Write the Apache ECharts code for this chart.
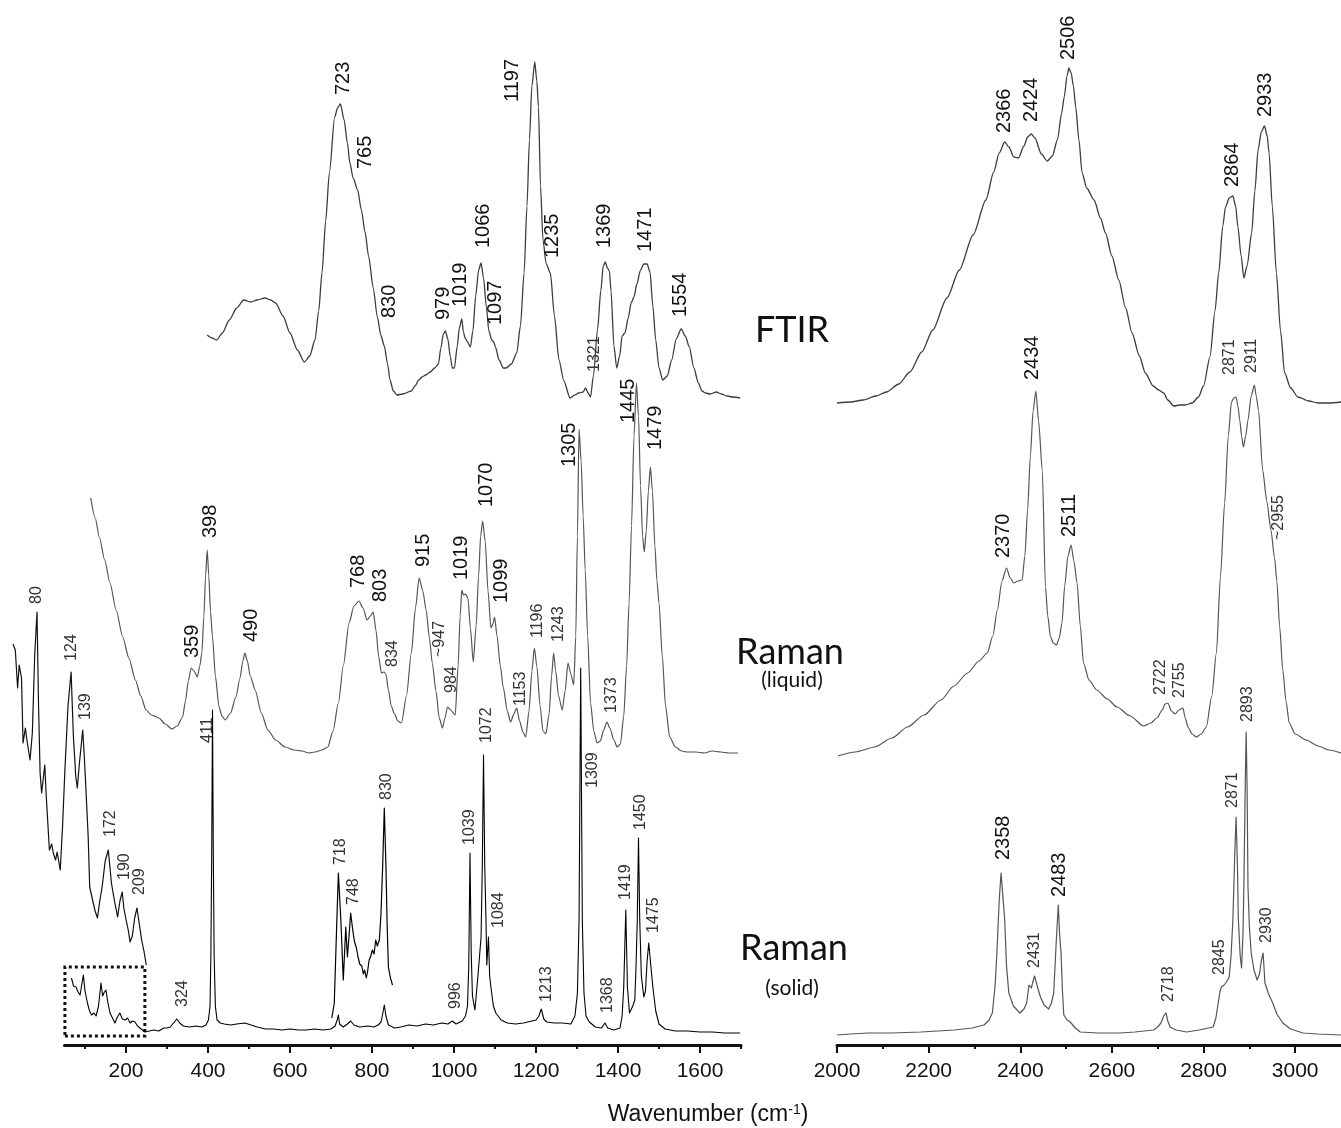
<!DOCTYPE html>
<html>
<head>
<meta charset="utf-8">
<title>FTIR and Raman spectra</title>
<script src="https://cdn.jsdelivr.net/npm/echarts@6/dist/echarts.min.js"></script>
<style>
  html, body { margin: 0; padding: 0; background: #ffffff; }
  #chart { width: 1341px; height: 1128px; }
</style>
</head>
<body>
<div id="chart"></div>
<script>
// Stacked spectra: [wavenumber (cm-1), offset intensity (a.u.)]

// FTIR, 400-1700 cm-1
const ftirLow = [[398,701],[410,698],[421,696],[435,703],[452,716],[470,728],[487,736],[504,734],[520,736],[539,738],[553,736],[565,733],[583,720],[600,703],[618,686],[635,674],[648,680],[661,696],[670,725],[678,763],[687,815],[696,863],[709,919],[716,928],[723,932],[732,916],[740,893],[746,873],[754,858],[765,846],[774,826],[783,804],[792,779],[803,748],[813,719],[822,700],[830,690],[838,672],[844,656],[852,645],[861,641],[875,642],[896,645],[905,650],[914,656],[922,659],[931,661],[942,664],[953,668],[962,672],[968,688],[974,702],[979,705],[985,697],[991,679],[996,668],[1001,668],[1008,690],[1013,708],[1019,717],[1023,704],[1027,698],[1033,694],[1040,689],[1046,705],[1053,740],[1060,766],[1066,773],[1072,758],[1079,729],[1085,705],[1092,696],[1097,694],[1101,689],[1110,676],[1120,668],[1127,668],[1140,672],[1153,683],[1162,710],[1171,763],[1178,830],[1184,896],[1190,950],[1197,974],[1202,955],[1206,929],[1211,850],[1217,796],[1225,772],[1235,763],[1245,720],[1256,676],[1268,655],[1283,638],[1295,641],[1304,643],[1315,644],[1321,648],[1327,643],[1333,639],[1340,660],[1350,706],[1358,745],[1364,770],[1369,774],[1374,768],[1379,765],[1383,745],[1390,690],[1397,668],[1404,680],[1410,700],[1417,703],[1425,718],[1432,733],[1439,739],[1446,752],[1455,766],[1463,772],[1471,772],[1478,764],[1485,730],[1492,696],[1500,668],[1509,656],[1520,660],[1531,676],[1542,697],[1554,707],[1564,700],[1574,689],[1585,668],[1596,653],[1605,645],[1613,643],[1625,642],[1640,644],[1652,642],[1666,640],[1680,639],[1698,638]];

// FTIR, 2000-3100 cm-1
const ftirHigh = [[2000,633],[2030,634],[2057,636],[2085,640],[2108,644],[2135,652],[2159,664],[2185,684],[2209,706],[2240,738],[2267,766],[2297,801],[2325,836],[2342,864],[2354,883],[2366,894],[2375,889],[2386,879],[2396,878],[2408,890],[2416,899],[2424,902],[2432,898],[2446,882],[2459,875],[2470,880],[2481,896],[2490,922],[2496,939],[2502,960],[2506,968],[2511,963],[2516,950],[2521,929],[2528,896],[2535,863],[2545,848],[2561,836],[2575,818],[2586,803],[2600,780],[2615,756],[2630,728],[2644,703],[2660,680],[2673,663],[2690,650],[2702,646],[2713,643],[2722,636],[2735,630],[2748,631],[2760,631],[2775,633],[2789,639],[2800,650],[2814,679],[2825,725],[2833,763],[2842,810],[2848,829],[2856,838],[2864,840],[2870,830],[2875,809],[2882,780],[2888,758],[2895,770],[2905,803],[2912,845],[2919,886],[2926,904],[2933,910],[2939,900],[2943,883],[2950,830],[2959,763],[2968,705],[2977,663],[2990,648],[3006,639],[3030,635],[3050,633],[3075,633],[3100,634]];

// Raman (liquid), 100-1700 cm-1
const liquidLow = [[114,538],[125,518],[135,499],[148,476],[161,453],[176,426],[192,399],[207,378],[223,356],[236,340],[249,326],[262,321],[270,320],[280,318],[296,312],[312,307],[325,310],[338,319],[345,335],[352,355],[359,368],[366,365],[374,359],[380,370],[385,383],[390,420],[394,460],[398,486],[402,460],[406,425],[411,399],[418,360],[427,329],[434,320],[442,316],[455,323],[468,339],[478,358],[485,375],[490,383],[496,375],[503,360],[515,346],[530,323],[546,306],[565,296],[588,289],[610,286],[630,285],[645,283],[661,284],[678,286],[692,289],[705,305],[718,333],[730,370],[744,413],[756,430],[768,435],[778,428],[788,416],[796,420],[803,424],[810,405],[816,380],[823,363],[829,364],[834,362],[840,346],[847,330],[854,323],[863,315],[872,313],[884,340],[896,383],[906,428],[915,458],[924,445],[932,426],[940,398],[947,373],[956,345],[964,318],[972,308],[978,318],[984,329],[992,326],[1003,321],[1010,370],[1015,420],[1019,446],[1023,441],[1028,442],[1034,438],[1040,408],[1047,374],[1054,410],[1060,460],[1065,500],[1070,515],[1076,495],[1083,445],[1090,408],[1095,412],[1099,419],[1105,400],[1113,370],[1120,349],[1130,325],[1138,314],[1146,322],[1153,328],[1160,315],[1168,304],[1175,299],[1183,325],[1190,365],[1196,388],[1202,370],[1210,330],[1217,305],[1224,302],[1232,322],[1238,360],[1243,383],[1248,365],[1255,340],[1264,326],[1271,345],[1278,373],[1285,362],[1292,351],[1297,400],[1301,500],[1305,607],[1310,575],[1315,520],[1320,466],[1326,400],[1333,333],[1341,305],[1349,293],[1357,295],[1365,306],[1373,314],[1380,308],[1390,296],[1398,289],[1406,292],[1414,320],[1421,370],[1427,433],[1433,510],[1439,600],[1445,653],[1450,620],[1455,550],[1460,500],[1464,484],[1469,505],[1474,545],[1479,569],[1484,545],[1490,490],[1495,455],[1500,433],[1508,380],[1516,330],[1526,299],[1540,289],[1555,285],[1568,284],[1590,284],[1610,283],[1630,285],[1651,284],[1670,283],[1693,283]];

// Raman (liquid), 2000-3100 cm-1
const liquidHigh = [[2002,280],[2040,284],[2082,289],[2120,298],[2154,309],[2190,321],[2227,336],[2255,350],[2285,363],[2310,375],[2328,383],[2340,400],[2350,426],[2360,455],[2370,468],[2378,458],[2386,453],[2395,455],[2404,456],[2410,480],[2416,526],[2422,580],[2428,625],[2434,645],[2440,615],[2448,566],[2455,449],[2460,420],[2466,399],[2472,393],[2479,391],[2485,398],[2491,413],[2497,450],[2504,480],[2511,491],[2517,475],[2524,453],[2531,410],[2538,373],[2550,356],[2567,346],[2590,337],[2611,329],[2640,320],[2669,310],[2685,313],[2698,318],[2710,326],[2716,332],[2722,333],[2730,325],[2738,322],[2746,326],[2755,328],[2760,318],[2766,309],[2775,302],[2784,299],[2795,302],[2806,309],[2818,340],[2828,383],[2837,460],[2846,533],[2854,600],[2861,634],[2866,638],[2871,639],[2875,630],[2879,616],[2883,600],[2887,589],[2892,600],[2897,616],[2904,640],[2911,651],[2915,640],[2920,626],[2929,566],[2938,535],[2947,506],[2955,478],[2960,455],[2966,410],[2973,366],[2980,335],[2987,313],[3000,302],[3024,296],[3050,290],[3074,286],[3100,283]];

// Raman (solid), 60-1700 cm-1
const solidLow = [[67,58],[72,50],[78,49],[83,44],[88,41],[96,61],[100,45],[106,33],[111,25],[116,21],[122,23],[127,20],[133,30],[139,53],[143,40],[146,43],[151,46],[156,33],[161,23],[167,18],[173,13],[179,19],[185,23],[191,17],[198,16],[204,18],[210,13],[216,15],[222,14],[228,10],[234,8],[240,6],[246,4],[257,5],[267,6],[280,5],[292,8],[299,8],[308,9],[316,13],[324,17],[331,13],[340,10],[355,9],[370,10],[385,9],[395,11],[401,16],[405,30],[407,80],[409,180],[411,326],[413,180],[415,80],[418,30],[422,16],[430,13],[440,12],[455,11],[470,12],[490,13],[505,11],[520,9],[540,7],[560,7],[580,6],[600,7],[620,6],[640,6],[660,7],[680,6],[700,7],[710,10],[715,16],[718,21],[721,12],[730,9],[740,12],[748,15],[756,11],[770,9],[790,10],[805,9],[815,11],[822,14],[826,22],[830,31],[834,20],[840,11],[855,8],[870,9],[890,11],[910,10],[930,12],[950,11],[970,13],[985,12],[996,15],[1005,12],[1020,15],[1028,20],[1033,30],[1036,70],[1039,183],[1042,83],[1045,40],[1051,26],[1059,63],[1066,99],[1069,170],[1072,281],[1075,170],[1078,116],[1080,71],[1084,99],[1087,60],[1090,49],[1096,30],[1102,23],[1115,16],[1130,13],[1150,12],[1170,13],[1190,15],[1200,16],[1207,20],[1213,27],[1219,17],[1226,14],[1245,13],[1265,13],[1285,12],[1295,20],[1301,43],[1305,116],[1309,368],[1313,116],[1317,43],[1322,20],[1330,14],[1345,9],[1360,8],[1368,13],[1375,8],[1390,6],[1405,8],[1410,20],[1414,49],[1419,126],[1423,49],[1428,23],[1436,30],[1441,36],[1444,70],[1447,116],[1450,198],[1453,116],[1457,60],[1463,39],[1467,45],[1471,75],[1475,93],[1479,75],[1485,49],[1492,25],[1500,12],[1515,7],[1540,5],[1570,5],[1600,4],[1630,4],[1660,3],[1698,3]];

// Raman (solid), 700-850 cm-1, expanded intensity
const solidMid = [[702,18],[708,33],[713,99],[718,163],[724,116],[730,56],[736,109],[740,79],[744,100],[748,123],[753,106],[757,95],[762,88],[766,79],[770,72],[775,70],[779,62],[782,66],[786,58],[789,64],[793,76],[797,80],[801,86],[805,82],[809,96],[813,90],[818,96],[822,123],[826,170],[830,228],[834,170],[837,110],[840,69],[845,58],[850,51]];

// Raman (solid), 50-220 cm-1, expanded (boxed region)
const solidInset = [[49,392],[52,386],[55,348],[57,371],[60,358],[62,293],[65,308],[67,296],[71,276],[74,303],[77,380],[80,424],[82,330],[84,263],[86,243],[90,271],[92,239],[96,186],[99,192],[101,183],[104,176],[106,184],[108,183],[110,166],[113,210],[116,266],[120,330],[124,364],[127,299],[130,260],[132,248],[135,275],[139,306],[141,280],[143,249],[146,200],[148,149],[152,135],[155,125],[158,118],[161,135],[164,149],[168,175],[172,186],[174,170],[176,153],[180,135],[184,119],[187,135],[190,144],[192,128],[195,116],[198,105],[200,94],[203,100],[206,118],[209,128],[212,112],[215,96],[218,85],[221,71]];

// Raman (solid), 2000-3100 cm-1
const solidHigh = [[2000,1],[2030,2],[2067,3],[2120,3],[2183,4],[2220,5],[2256,6],[2295,8],[2321,11],[2332,16],[2339,23],[2345,50],[2349,83],[2354,135],[2358,163],[2362,140],[2366,116],[2370,70],[2375,43],[2385,30],[2399,23],[2408,27],[2414,33],[2419,51],[2424,48],[2431,60],[2437,50],[2444,39],[2452,31],[2462,27],[2468,33],[2473,43],[2478,90],[2483,131],[2486,100],[2489,83],[2492,45],[2495,21],[2502,16],[2509,14],[2520,8],[2531,4],[2570,3],[2618,3],[2650,4],[2691,6],[2700,9],[2707,13],[2713,20],[2718,23],[2722,15],[2727,9],[2740,6],[2763,4],[2790,6],[2821,9],[2827,18],[2832,33],[2836,45],[2839,49],[2845,51],[2850,54],[2856,59],[2860,80],[2864,116],[2868,180],[2871,219],[2874,170],[2876,116],[2880,80],[2883,68],[2886,100],[2888,149],[2891,250],[2893,304],[2895,250],[2897,149],[2900,110],[2904,83],[2910,66],[2917,56],[2922,62],[2926,75],[2930,83],[2934,53],[2942,42],[2951,33],[2960,22],[2973,13],[2990,7],[3017,3],[3050,2],[3100,1]];

// Band positions marked on each trace
const ftirLowPeaks = [723, 765, 830, 979, 1019, 1066, 1097, 1197, 1235, 1321, 1369, 1471, 1554];
const ftirHighPeaks = [2366, 2424, 2506, 2864, 2933];
const liquidLowPeaks = [359, 398, 490, 768, 803, 834, 915, 947, 984, 1019, 1070, 1099, 1153, 1196, 1243, 1305, 1373, 1445, 1479];
const liquidHighPeaks = [2370, 2434, 2511, 2722, 2755, 2871, 2911, 2955];
const solidLowPeaks = [324, 411, 996, 1039, 1072, 1084, 1213, 1309, 1368, 1419, 1450, 1475];
const solidMidPeaks = [718, 748, 830];
const solidInsetPeaks = [80, 124, 139, 172, 190, 209];
const solidHighPeaks = [2358, 2431, 2483, 2718, 2845, 2871, 2893, 2930];
const approxPeaks = [947, 2955];

// Axis ticks
const lowMajorTicks = [200, 400, 600, 800, 1000, 1200, 1400, 1600];
const lowMinorTicks = [100, 300, 500, 700, 900, 1100, 1300, 1500, 1700];
const highMajorTicks = [2000, 2200, 2400, 2600, 2800, 3000];
const highMinorTicks = [2100, 2300, 2500, 2700, 2900];

// Label placement tweaks (pixels: right, down) relative to each band
const nudge = {
  ftirLow: {723:[3,-9],765:[8,-21],830:[5,-28],979:[-2,-11],1019:[-1,-12],1066:[2,-15],1097:[2,-17],1197:[-22,40],1235:[2,-15],1321:[9,-16],1369:[-1,-14],1471:[-2,-12],1554:[-1,-12]},
  ftirHigh: {2366:[0,-9],2424:[0,-12],2506:[0,-8],2864:[0,-9],2933:[1,-9]},
  liquidLow: {359:[1,-10],398:[3,-12],490:[7,-11],768:[0,-13],803:[7,-10],834:[7,-7],915:[4,-11],947:[7,-6],984:[4,-14],1019:[0,-10],1070:[4,-14],1099:[7,-14],1153:[4,-2],1196:[3,-10],1243:[5,-11],1305:[-10,38],1373:[5,-9],1445:[-8,40],1479:[5,-17]},
  liquidHigh: {2370:[-3,-10],2434:[-3,-11],2511:[-2,-8],2722:[-7,-8],2755:[-3,-10],2871:[-6,-22],2911:[-3,-12],2955:[4,-18]},
  solidLow: {324:[6,-12],411:[-5,33],996:[3,-12],1039:[0,-8],1072:[3,-12],1084:[10,-9],1213:[5,-7],1309:[12,120],1368:[3,-10],1419:[0,-10],1450:[2,-8],1475:[5,-10]},
  solidMid: {718:[2,-8],748:[3,-8],830:[2,-8]},
  solidInset: {80:[0,-8],124:[0,-11],139:[3,-10],172:[2,-13],190:[2,-12],209:[3,-13]},
  solidHigh: {2358:[2,-13],2431:[0,-8],2483:[1,-8],2718:[3,-11],2845:[-5,-10],2871:[-3,-9],2893:[1,-10],2930:[3,-10]}
};
// Bands printed in the larger type
const largeLabels = {
  ftirLow: [723, 765, 830, 979, 1019, 1066, 1097, 1197, 1235, 1369, 1471, 1554],
  ftirHigh: [2366, 2424, 2506, 2864, 2933],
  liquidLow: [359, 398, 490, 768, 803, 915, 1019, 1070, 1099, 1305, 1445, 1479],
  liquidHigh: [2370, 2434, 2511],
  solidLow: [], solidMid: [], solidInset: [],
  solidHigh: [2358, 2483]
};

const LABEL_FONT = '"Liberation Sans", Arial, Helvetica, sans-serif';
const NAME_FONT = 'Lato, "Open Sans", sans-serif';

// intensity of a trace at a given wavenumber (for placing band labels)
function valueAt(trace, v) {
  for (let i = 0; i < trace.length; i++) {
    if (trace[i][0] === v) return trace[i][1];
    if (trace[i][0] > v && i > 0) {
      const a = trace[i - 1], b = trace[i];
      return a[1] + (b[1] - a[1]) * (v - a[0]) / (b[0] - a[0]);
    }
  }
  return trace[trace.length - 1][1];
}

function lineSeries(data, axis, color, width, smooth) {
  return {
    type: 'line', data: data, xAxisIndex: axis, yAxisIndex: axis,
    showSymbol: false, symbol: 'none', silent: true,
    smooth: smooth, smoothMonotone: 'x',
    lineStyle: { color: color, width: width, join: 'round' },
    z: 3
  };
}

function labelSeries(key, trace, peaks, axis) {
  const big = largeLabels[key];
  const shift = nudge[key];
  return {
    type: 'custom', xAxisIndex: axis, yAxisIndex: axis, silent: true, z: 5,
    data: peaks.map(v => [v, valueAt(trace, v)]),
    renderItem: function (params, api) {
      const v = api.value(0);
      const p = api.coord([v, api.value(1)]);
      const d = shift[v] || [0, -10];
      const large = big.indexOf(v) >= 0;
      return {
        type: 'text',
        x: p[0] + d[0], y: p[1] + d[1],
        rotation: Math.PI / 2,
        style: {
          text: (approxPeaks.indexOf(v) >= 0 ? '~' : '') + v,
          fontSize: large ? 20 : 16,
          fontFamily: LABEL_FONT,
          fill: large ? '#111111' : '#333333',
          align: 'left',
          verticalAlign: 'middle'
        }
      };
    }
  };
}

// Plot frames: 0 = 50-1700 cm-1, 1 = 2000-3100 cm-1, 2 = expanded low-wavenumber view,
// 3 and 4 carry the minor ticks of 0 and 1.
const lowFrame = { left: 64.5, top: 0, width: 676.5, height: 1045 };
const highFrame = { left: 837, top: 0, width: 506, height: 1045 };
const insetFrame = { left: 6, top: 0, width: 147.25, height: 1045 };

function bottomAxis(gridIndex, min, max, ticks, tickLen, withLine, withLabels) {
  return {
    type: 'value', gridIndex: gridIndex, min: min, max: max, position: 'bottom',
    axisLine: { show: withLine, onZero: false, lineStyle: { color: '#111111', width: 3 } },
    axisTick: { show: true, customValues: ticks, length: tickLen, lineStyle: { color: '#111111', width: 2 } },
    axisLabel: {
      show: withLabels, customValues: ticks, margin: 16, fontSize: 21,
      color: '#111111', fontFamily: LABEL_FONT,
      formatter: function (v) { return String(v); }
    },
    splitLine: { show: false }
  };
}

function hiddenY(gridIndex) {
  return { type: 'value', gridIndex: gridIndex, min: -9, max: 1036, show: false };
}

const zoomBox = { from: 51, to: 246, top: 69 };

const solidLowSeries = lineSeries(solidLow, 0, '#000000', 1.1, false);
solidLowSeries.markArea = {
  silent: true,
  itemStyle: { color: 'rgba(0,0,0,0)', borderColor: '#111111', borderWidth: 3, borderType: [3, 3] },
  data: [[{ xAxis: zoomBox.from, yAxis: 0 }, { xAxis: zoomBox.to, yAxis: zoomBox.top }]]
};

const option = {
  animation: false,
  backgroundColor: '#ffffff',
  grid: [lowFrame, highFrame, insetFrame, lowFrame, highFrame].map(f => Object.assign({ containLabel: false }, f)),
  xAxis: [
    bottomAxis(0, 50, 1700, lowMajorTicks, 8, true, true),
    bottomAxis(1, 2000, 3100, highMajorTicks, 8, true, true),
    { type: 'value', gridIndex: 2, min: 40, max: 230, show: false },
    bottomAxis(3, 50, 1700, lowMinorTicks, 4, false, false),
    bottomAxis(4, 2000, 3100, highMinorTicks, 4, false, false)
  ],
  yAxis: [hiddenY(0), hiddenY(1), hiddenY(2), hiddenY(3), hiddenY(4)],
  series: [
    lineSeries(ftirLow, 0, '#3d3d3d', 1.3, 0.25),
    lineSeries(liquidLow, 0, '#555555', 1.2, 0.25),
    solidLowSeries,
    lineSeries(solidMid, 0, '#000000', 1.2, false),
    lineSeries(solidInset, 2, '#111111', 1.2, false),
    lineSeries(ftirHigh, 1, '#3d3d3d', 1.3, 0.25),
    lineSeries(liquidHigh, 1, '#555555', 1.2, 0.25),
    lineSeries(solidHigh, 1, '#555555', 1.2, false),
    labelSeries('ftirLow', ftirLow, ftirLowPeaks, 0),
    labelSeries('liquidLow', liquidLow, liquidLowPeaks, 0),
    labelSeries('solidLow', solidLow, solidLowPeaks, 0),
    labelSeries('solidMid', solidMid, solidMidPeaks, 0),
    labelSeries('solidInset', solidInset, solidInsetPeaks, 2),
    labelSeries('ftirHigh', ftirHigh, ftirHighPeaks, 1),
    labelSeries('liquidHigh', liquidHigh, liquidHighPeaks, 1),
    labelSeries('solidHigh', solidHigh, solidHighPeaks, 1)
  ],
  graphic: [
    { type: 'text', x: 792, y: 330, style: { text: 'FTIR', fontSize: 36, fontFamily: NAME_FONT, fill: '#111111', align: 'center', verticalAlign: 'middle' } },
    { type: 'text', x: 790, y: 652, style: { text: 'Raman', fontSize: 36, fontFamily: NAME_FONT, fill: '#111111', align: 'center', verticalAlign: 'middle' } },
    { type: 'text', x: 792, y: 680, style: { text: '(liquid)', fontSize: 21, fontFamily: NAME_FONT, fill: '#111111', align: 'center', verticalAlign: 'middle' } },
    { type: 'text', x: 794, y: 948, style: { text: 'Raman', fontSize: 36, fontFamily: NAME_FONT, fill: '#111111', align: 'center', verticalAlign: 'middle' } },
    { type: 'text', x: 792, y: 988, style: { text: '(solid)', fontSize: 21, fontFamily: NAME_FONT, fill: '#111111', align: 'center', verticalAlign: 'middle' } },
    {
      type: 'text', x: 708, y: 1115,
      style: {
        text: '{t|Wavenumber (cm}{s|-1}{t|)}',
        align: 'center', verticalAlign: 'middle',
        rich: {
          t: { fontSize: 23, fontFamily: LABEL_FONT, fill: '#111111', verticalAlign: 'bottom' },
          s: { fontSize: 14, fontFamily: LABEL_FONT, fill: '#111111', verticalAlign: 'top' }
        }
      }
    }
  ]
};

const chart = echarts.init(document.getElementById('chart'), null, { renderer: 'canvas' });
chart.setOption(option);
</script>
</body>
</html>
